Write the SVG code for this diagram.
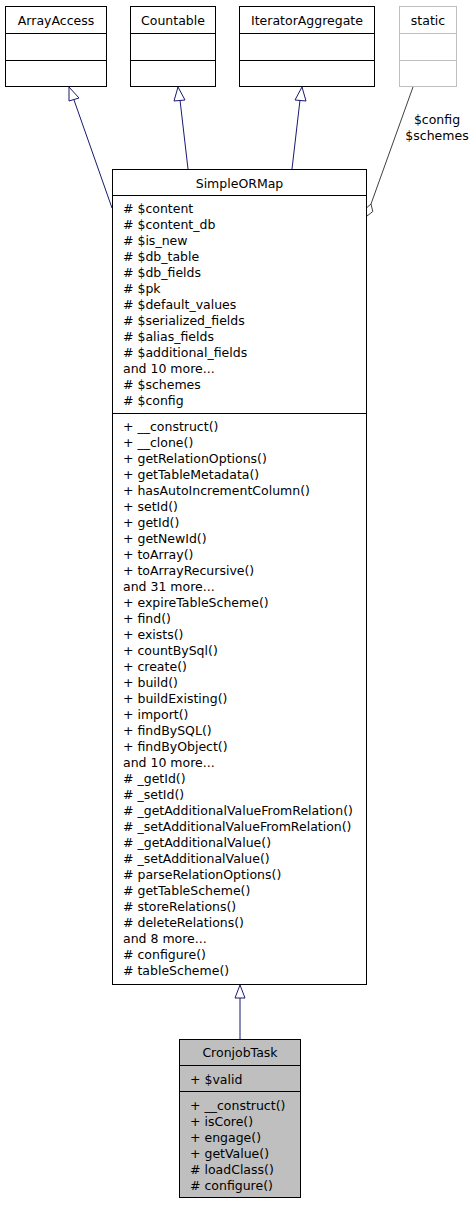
<svg xmlns="http://www.w3.org/2000/svg" width="476" height="1205" viewBox="0 0 476 1205">
<defs>
<style>
text{font-family:"DejaVu Sans","Liberation Sans",sans-serif;font-size:12.5px;fill:#000}
.c{text-anchor:middle}
.box{fill:#fff;stroke:#000;stroke-width:1}
.gbox{fill:#fff;stroke:#bfbfbf;stroke-width:1}
.sel{fill:#bfbfbf;stroke:#000;stroke-width:1}
.div{stroke:#000;stroke-width:1}
.gdiv{stroke:#bfbfbf;stroke-width:1}
.inh{fill:none;stroke:#191970;stroke-width:1}
.head{fill:#fff;stroke:#191970;stroke-width:1}
.use{fill:none;stroke:#404040;stroke-width:1}
</style>
</defs>
<g id="connectors">
<line class="inh" x1="112" y1="208" x2="74" y2="100"/>
<polygon class="head" points="69,87 69,101 79,98"/>
<line class="inh" x1="188" y1="169" x2="180" y2="100"/>
<polygon class="head" points="178,87 174,101 185,100"/>
<line class="inh" x1="292" y1="169" x2="300" y2="100"/>
<polygon class="head" points="302,87 295,100 306,101"/>
<line class="use" x1="413" y1="87" x2="371" y2="204"/>
<polygon class="head" style="stroke:#404040" points="367,216 365.2,209 371,204 372.8,211.5"/>
<text class="c" x="437" y="124">$config</text>
<text class="c" x="437" y="140">$schemes</text>
<line class="inh" x1="240" y1="1039" x2="240" y2="998"/>
<polygon class="head" points="240,985 235,998 245,998"/>
</g>
<g id="ArrayAccess">
<rect class="box" x="5.5" y="6.5" width="101" height="80"/>
<line class="div" x1="5.5" y1="33.5" x2="106.5" y2="33.5"/>
<line class="div" x1="5.5" y1="60.5" x2="106.5" y2="60.5"/>
<text class="c" x="56" y="24.5">ArrayAccess</text>
</g>
<g id="Countable">
<rect class="box" x="130.5" y="6.5" width="85" height="80"/>
<line class="div" x1="130.5" y1="33.5" x2="215.5" y2="33.5"/>
<line class="div" x1="130.5" y1="60.5" x2="215.5" y2="60.5"/>
<text class="c" x="173" y="24.5">Countable</text>
</g>
<g id="IteratorAggregate">
<rect class="box" x="239.5" y="6.5" width="135" height="80"/>
<line class="div" x1="239.5" y1="33.5" x2="374.5" y2="33.5"/>
<line class="div" x1="239.5" y1="60.5" x2="374.5" y2="60.5"/>
<text class="c" x="307" y="24.5">IteratorAggregate</text>
</g>
<g id="static">
<rect class="gbox" x="399.5" y="6.5" width="57" height="80"/>
<line class="gdiv" x1="399.5" y1="33.5" x2="456.5" y2="33.5"/>
<line class="gdiv" x1="399.5" y1="60.5" x2="456.5" y2="60.5"/>
<text class="c" x="428" y="24.5">static</text>
</g>
<g id="SimpleORMap">
<rect class="box" x="112.5" y="169.5" width="254" height="815"/>
<line class="div" x1="112.5" y1="195.5" x2="366.5" y2="195.5"/>
<line class="div" x1="112.5" y1="413.5" x2="366.5" y2="413.5"/>
<text class="c" x="239.5" y="187.5">SimpleORMap</text>
<text x="123" y="213">
<tspan x="123" dy="0"># $content</tspan>
<tspan x="123" dy="16"># $content_db</tspan>
<tspan x="123" dy="16"># $is_new</tspan>
<tspan x="123" dy="16"># $db_table</tspan>
<tspan x="123" dy="16"># $db_fields</tspan>
<tspan x="123" dy="16"># $pk</tspan>
<tspan x="123" dy="16"># $default_values</tspan>
<tspan x="123" dy="16"># $serialized_fields</tspan>
<tspan x="123" dy="16"># $alias_fields</tspan>
<tspan x="123" dy="16"># $additional_fields</tspan>
<tspan x="123" dy="16">and 10 more...</tspan>
<tspan x="123" dy="16"># $schemes</tspan>
<tspan x="123" dy="16"># $config</tspan>
</text>
<text x="123" y="431">
<tspan x="123" dy="0">+ __construct()</tspan>
<tspan x="123" dy="16">+ __clone()</tspan>
<tspan x="123" dy="16">+ getRelationOptions()</tspan>
<tspan x="123" dy="16">+ getTableMetadata()</tspan>
<tspan x="123" dy="16">+ hasAutoIncrementColumn()</tspan>
<tspan x="123" dy="16">+ setId()</tspan>
<tspan x="123" dy="16">+ getId()</tspan>
<tspan x="123" dy="16">+ getNewId()</tspan>
<tspan x="123" dy="16">+ toArray()</tspan>
<tspan x="123" dy="16">+ toArrayRecursive()</tspan>
<tspan x="123" dy="16">and 31 more...</tspan>
<tspan x="123" dy="16">+ expireTableScheme()</tspan>
<tspan x="123" dy="16">+ find()</tspan>
<tspan x="123" dy="16">+ exists()</tspan>
<tspan x="123" dy="16">+ countBySql()</tspan>
<tspan x="123" dy="16">+ create()</tspan>
<tspan x="123" dy="16">+ build()</tspan>
<tspan x="123" dy="16">+ buildExisting()</tspan>
<tspan x="123" dy="16">+ import()</tspan>
<tspan x="123" dy="16">+ findBySQL()</tspan>
<tspan x="123" dy="16">+ findByObject()</tspan>
<tspan x="123" dy="16">and 10 more...</tspan>
<tspan x="123" dy="16"># _getId()</tspan>
<tspan x="123" dy="16"># _setId()</tspan>
<tspan x="123" dy="16"># _getAdditionalValueFromRelation()</tspan>
<tspan x="123" dy="16"># _setAdditionalValueFromRelation()</tspan>
<tspan x="123" dy="16"># _getAdditionalValue()</tspan>
<tspan x="123" dy="16"># _setAdditionalValue()</tspan>
<tspan x="123" dy="16"># parseRelationOptions()</tspan>
<tspan x="123" dy="16"># getTableScheme()</tspan>
<tspan x="123" dy="16"># storeRelations()</tspan>
<tspan x="123" dy="16"># deleteRelations()</tspan>
<tspan x="123" dy="16">and 8 more...</tspan>
<tspan x="123" dy="16"># configure()</tspan>
<tspan x="123" dy="16"># tableScheme()</tspan>
</text>
</g>
<g id="CronjobTask">
<rect class="sel" x="179.5" y="1039.5" width="121" height="158"/>
<line class="div" x1="179.5" y1="1065.5" x2="300.5" y2="1065.5"/>
<line class="div" x1="179.5" y1="1091.5" x2="300.5" y2="1091.5"/>
<text class="c" x="240" y="1057">CronjobTask</text>
<text x="190" y="1084">+ $valid</text>
<text x="190" y="1110">
<tspan x="190" dy="0">+ __construct()</tspan>
<tspan x="190" dy="16">+ isCore()</tspan>
<tspan x="190" dy="16">+ engage()</tspan>
<tspan x="190" dy="16">+ getValue()</tspan>
<tspan x="190" dy="16"># loadClass()</tspan>
<tspan x="190" dy="16"># configure()</tspan>
</text>
</g>
</svg>
